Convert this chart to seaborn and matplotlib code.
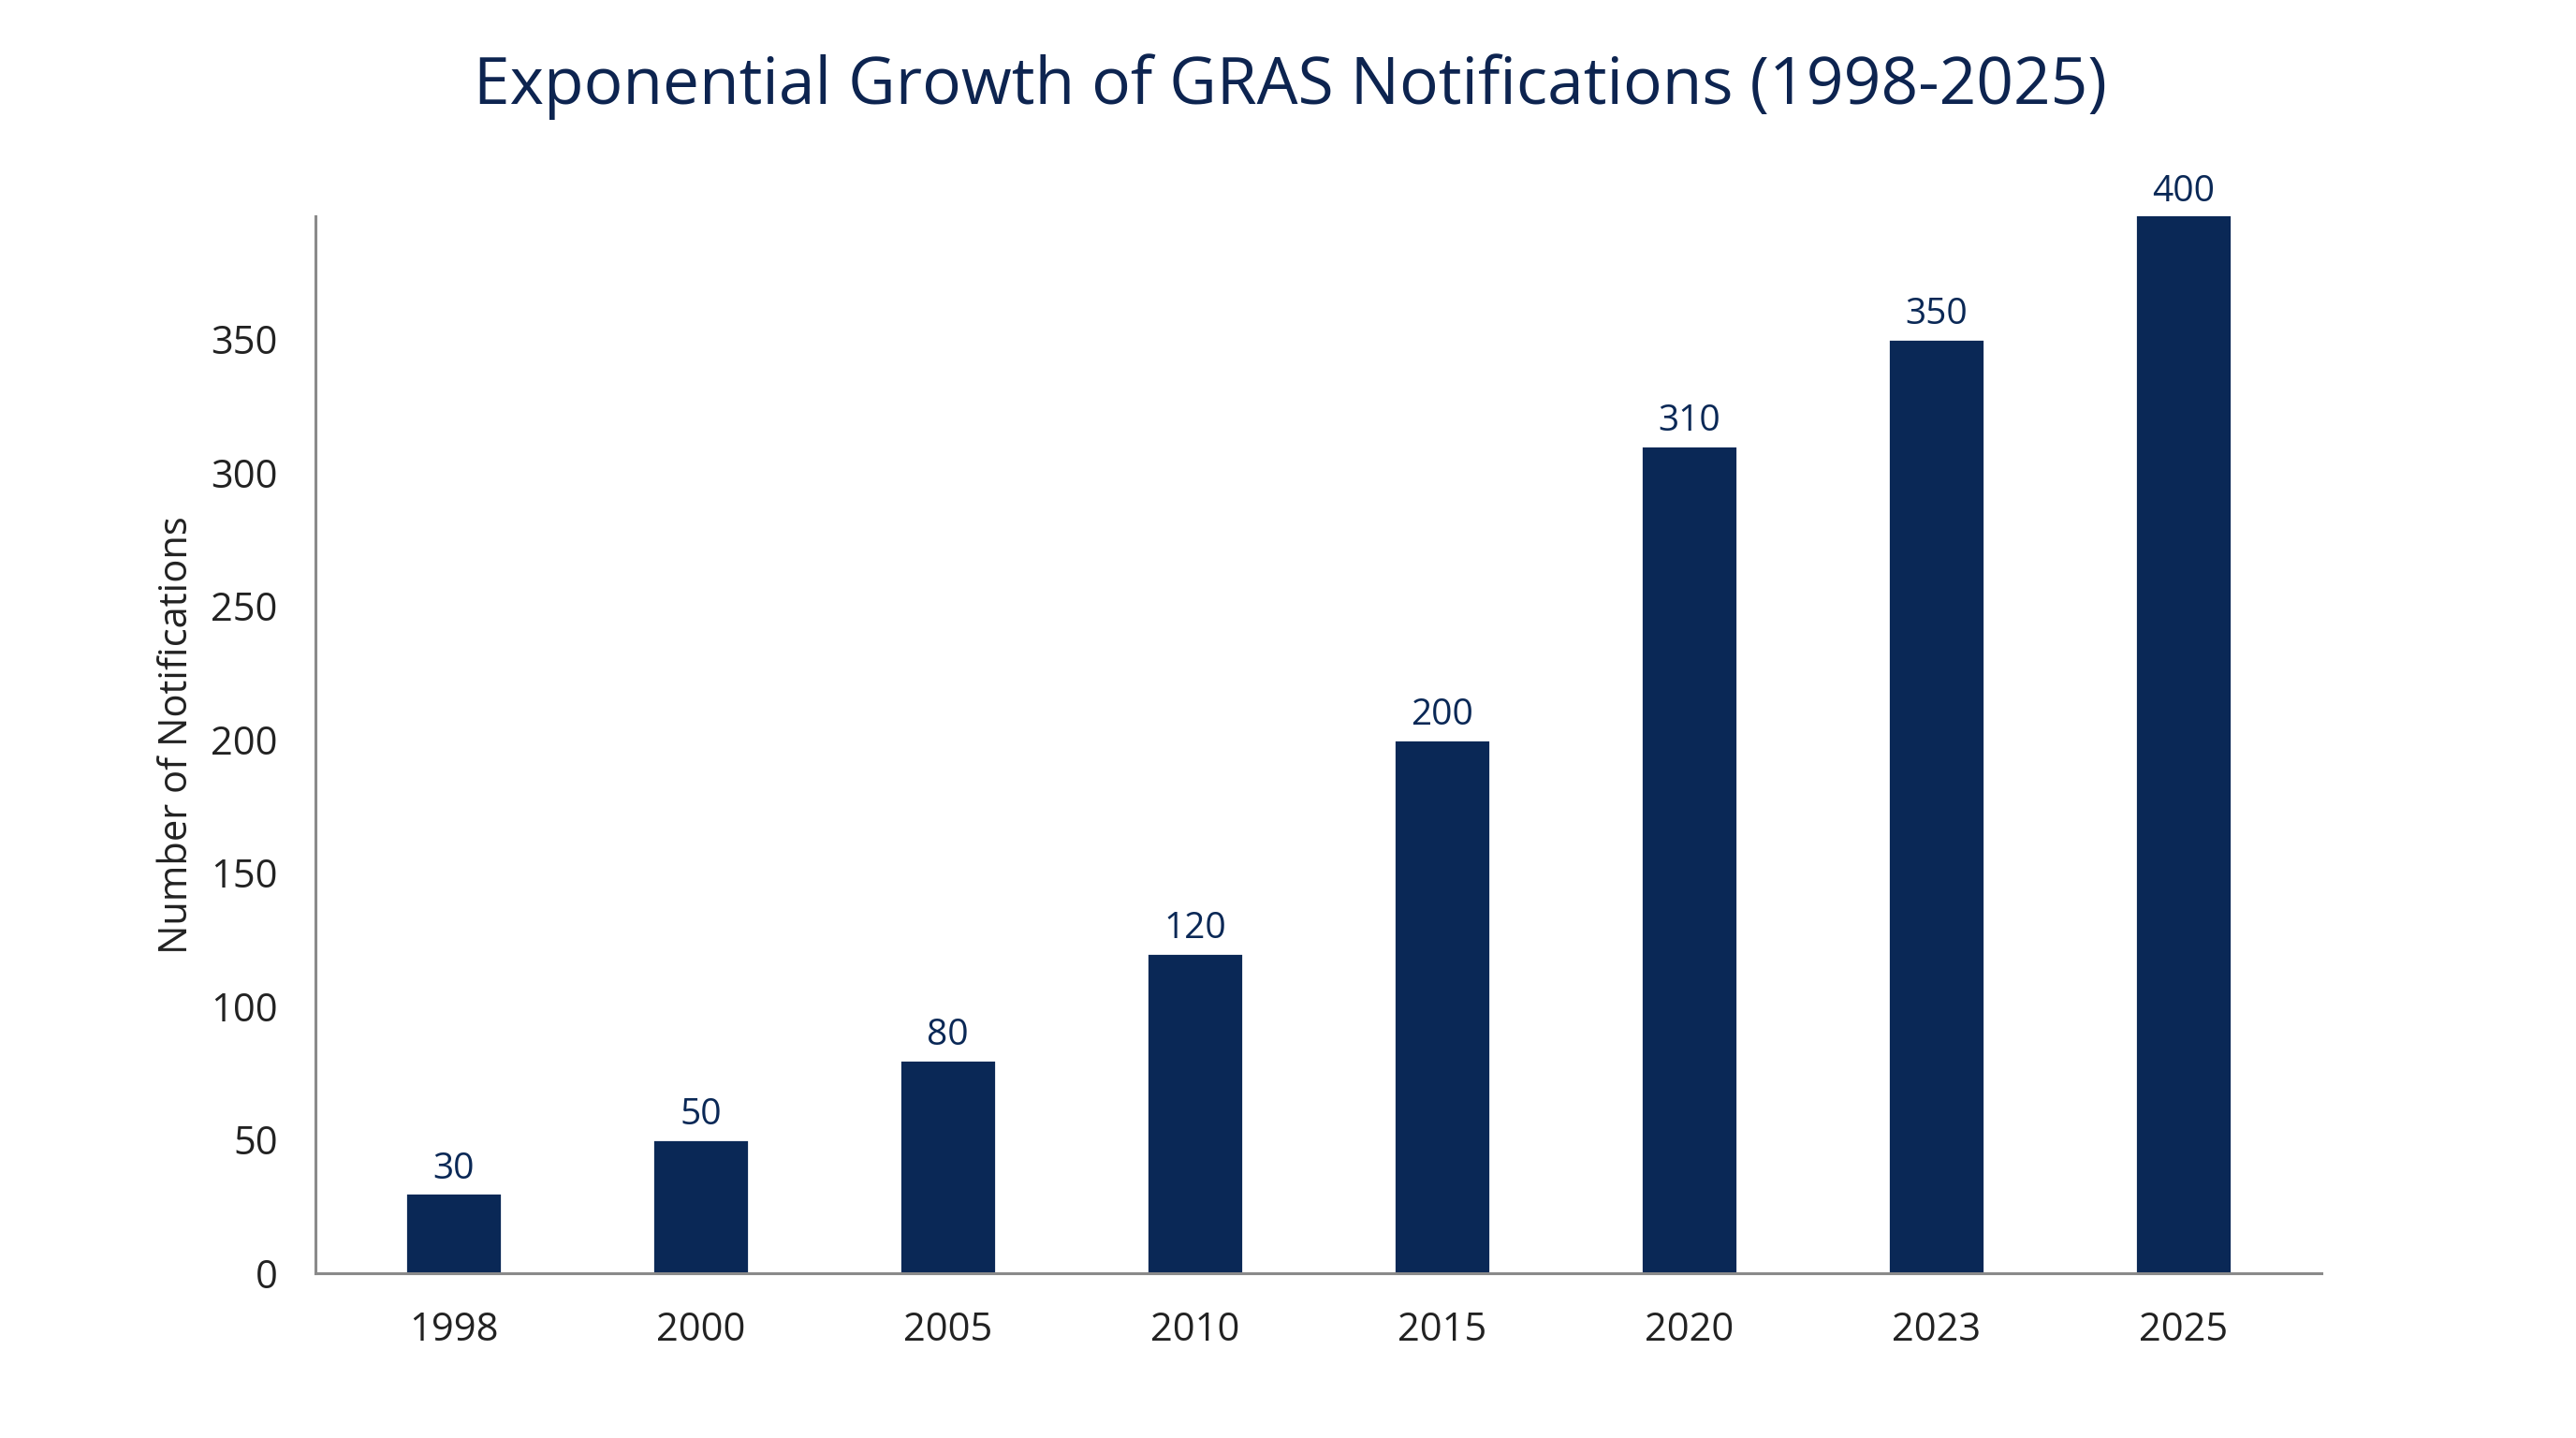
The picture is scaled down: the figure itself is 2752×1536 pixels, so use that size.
import pandas as pd
import matplotlib
matplotlib.use("Agg")
import matplotlib.pyplot as plt
import seaborn as sns

# Data
years = ['1998', '2000', '2005', '2010', '2015', '2020', '2023', '2025']
notifications = [30, 50, 80, 120, 200, 310, 350, 400]

df = pd.DataFrame({'Year': years, 'Notifications': notifications})

sns.set_theme(style='white')
plt.rcParams['font.family'] = ['Open Sans', 'DejaVu Sans']

navy = '#0a2856'
axis_grey = '#8a8a8a'
y_top = 396  # the top bar is cut off slightly by the axis limit

fig = plt.figure(figsize=(13.76, 7.68), dpi=200)
ax = fig.add_axes([0.1225, 0.1146, 0.7787, 0.7350])

sns.barplot(data=df, x='Year', y='Notifications', color=navy, width=0.39,
            saturation=1, ax=ax)

ax.set_xlim(-0.56, len(years) - 1 + 0.56)
ax.set_ylim(0, y_top)
ax.set_yticks(range(0, 351, 50))

# value labels above the (visible) bar tops
for i, v in enumerate(notifications):
    ax.annotate(str(v), xy=(i, min(v, y_top)), xytext=(0, 2.5),
                textcoords='offset points', ha='center', va='bottom',
                fontsize=14, color=navy, annotation_clip=False)

ax.set_xlabel('')
ax.set_ylabel('Number of Notifications', fontsize=15, color='#222222', labelpad=5.5)
ax.yaxis.label.set_y(0.509)
ax.tick_params(axis='both', labelsize=15, colors=axis_grey,
               length=6, width=1.1, pad=8.5)
ax.tick_params(axis='both', labelcolor='#222222')

sns.despine(ax=ax)
for side in ['left', 'bottom']:
    ax.spines[side].set_color(axis_grey)
    ax.spines[side].set_linewidth(1.1)

fig.suptitle('Exponential Growth of GRAS Notifications (1998-2025)',
             fontsize=25, color='#0d2450', x=0.501, y=0.963)

fig.savefig('out.png', dpi=200, facecolor='white')
